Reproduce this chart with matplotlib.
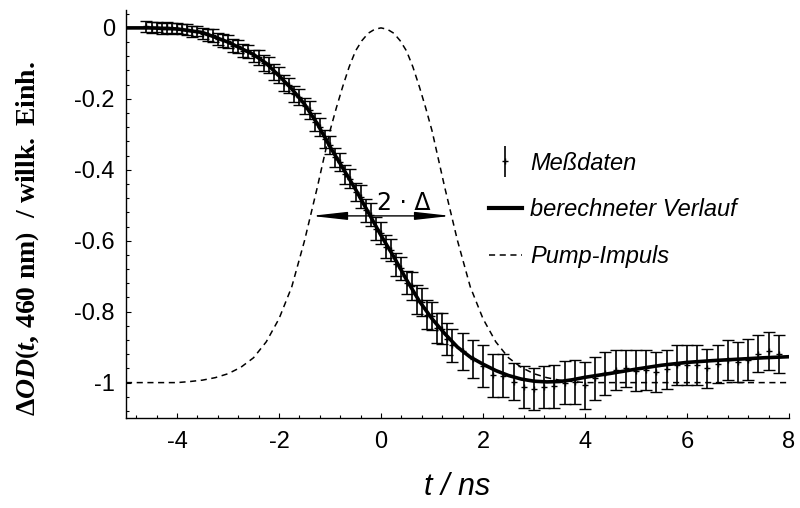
import matplotlib
matplotlib.use("Agg")
import matplotlib.pyplot as plt
from matplotlib.ticker import MultipleLocator, FuncFormatter
from matplotlib.lines import Line2D
from matplotlib.container import ErrorbarContainer
from matplotlib.legend_handler import HandlerErrorbar

plt.rcParams['font.family'] = ['Liberation Sans', 'DejaVu Sans']
plt.rcParams['mathtext.fontset'] = 'custom'
plt.rcParams['mathtext.rm'] = 'Liberation Serif:bold'
plt.rcParams['mathtext.it'] = 'Liberation Serif:bold:italic'
plt.rcParams['mathtext.bf'] = 'Liberation Serif:bold'

# measured points (t in ns, delta OD, error)
t_data = [-4.6, -4.5, -4.4, -4.3, -4.2, -4.1, -4.0, -3.9, -3.8, -3.7,
          -3.6, -3.5, -3.4, -3.3, -3.2, -3.1, -3.0, -2.9, -2.8, -2.7,
          -2.6, -2.5, -2.4, -2.3, -2.2, -2.1, -2.0, -1.9, -1.8, -1.7,
          -1.6, -1.5, -1.4, -1.3, -1.2, -1.1, -1.0, -0.9, -0.8, -0.7,
          -0.6, -0.5, -0.4, -0.3, -0.2, -0.1, 0.0, 0.1, 0.2, 0.3,
          0.4, 0.5, 0.6, 0.7, 0.8, 0.9, 1.0, 1.1, 1.2, 1.3,
          1.4, 1.6, 1.8, 2.0, 2.2, 2.4, 2.6, 2.8, 3.0, 3.2,
          3.4, 3.6, 3.8, 4.0, 4.2, 4.4, 4.6, 4.8, 5.0, 5.2,
          5.4, 5.6, 5.8, 6.0, 6.2, 6.4, 6.6, 6.8, 7.0, 7.2,
          7.4, 7.6, 7.8]
od_data = [0.004, 0.001, 0.003, -0.002, 0.002, -0.001, 0.0, -0.003, -0.004, -0.010,
           -0.009, -0.016, -0.020, -0.021, -0.031, -0.035, -0.038, -0.050, -0.052, -0.064,
           -0.066, -0.079, -0.083, -0.099, -0.104, -0.124, -0.133, -0.155, -0.162, -0.186,
           -0.194, -0.220, -0.232, -0.265, -0.279, -0.314, -0.330, -0.365, -0.378, -0.413,
           -0.425, -0.462, -0.476, -0.514, -0.527, -0.566, -0.578, -0.617, -0.626, -0.667,
           -0.678, -0.718, -0.728, -0.766, -0.772, -0.808, -0.812, -0.845, -0.848, -0.877,
           -0.895, -0.912, -0.934, -0.953, -0.979, -0.980, -0.998, -1.013, -1.018, -1.013,
           -1.010, -1.000, -0.998, -1.007, -0.988, -0.974, -0.965, -0.960, -0.966, -0.965,
           -0.970, -0.963, -0.951, -0.951, -0.951, -0.960, -0.948, -0.937, -0.942, -0.935,
           -0.918, -0.910, -0.920]
od_err = [0.015, 0.015, 0.015, 0.015, 0.015, 0.015, 0.015, 0.015, 0.015, 0.015,
          0.015, 0.015, 0.018, 0.018, 0.018, 0.018, 0.018, 0.018, 0.018, 0.018,
          0.018, 0.018, 0.022, 0.022, 0.022, 0.022, 0.022, 0.022, 0.022, 0.022,
          0.022, 0.022, 0.026, 0.026, 0.026, 0.026, 0.026, 0.026, 0.026, 0.026,
          0.026, 0.026, 0.032, 0.032, 0.032, 0.032, 0.032, 0.032, 0.032, 0.032,
          0.032, 0.032, 0.040, 0.040, 0.040, 0.040, 0.040, 0.042, 0.044, 0.045,
          0.047, 0.052, 0.054, 0.059, 0.061, 0.061, 0.052, 0.059, 0.059, 0.059,
          0.061, 0.061, 0.061, 0.066, 0.061, 0.061, 0.056, 0.052, 0.059, 0.056,
          0.056, 0.054, 0.056, 0.056, 0.056, 0.056, 0.054, 0.056, 0.056, 0.059,
          0.052, 0.054, 0.054]

# calculated curve
t_fit = [-5.0, -4.5, -4.0, -3.5, -3.0, -2.5, -2.25, -2.0, -1.75, -1.5,
         -1.25, -1.0, -0.75, -0.5, -0.25, 0.0, 0.25, 0.5, 0.75, 1.0,
         1.25, 1.5, 1.75, 2.0, 2.25, 2.5, 2.75, 3.0, 3.25, 3.5,
         3.75, 4.0, 4.5, 5.0, 5.5, 6.0, 6.5, 7.0, 7.5, 8.0]
od_fit = [0.0, 0.0, -0.003, -0.013, -0.040, -0.075, -0.100, -0.135, -0.172, -0.215,
          -0.270, -0.335, -0.395, -0.455, -0.520, -0.585, -0.645, -0.710, -0.770, -0.820,
          -0.862, -0.900, -0.928, -0.948, -0.966, -0.980, -0.990, -0.996, -0.998, -0.997,
          -0.992, -0.985, -0.974, -0.962, -0.951, -0.943, -0.938, -0.934, -0.930, -0.927]

# pump pulse
t_pump = [-5.0, -4.0, -3.75, -3.5, -3.25, -3.0, -2.75, -2.5, -2.25, -2.0,
          -1.75, -1.5, -1.25, -1.0, -0.875, -0.75, -0.625, -0.5, -0.375, -0.25,
          -0.125, 0.0, 0.125, 0.25, 0.375, 0.5, 0.625, 0.75, 0.875, 1.0,
          1.25, 1.5, 1.75, 2.0, 2.25, 2.5, 2.75, 3.0, 3.25, 3.5,
          3.75, 4.0, 8.0]
od_pump = [-1.0, -1.0, -0.997, -0.993, -0.986, -0.975, -0.957, -0.930, -0.885, -0.820,
           -0.730, -0.600, -0.450, -0.290, -0.225, -0.165, -0.110, -0.065, -0.036, -0.015,
           -0.004, 0.0, -0.004, -0.015, -0.036, -0.065, -0.110, -0.165, -0.225, -0.290,
           -0.450, -0.600, -0.730, -0.820, -0.885, -0.930, -0.957, -0.975, -0.986, -0.993,
           -0.997, -1.0, -1.0]

fig = plt.figure(figsize=(8, 5.08), dpi=100)
ax = fig.add_axes([0.1575, 0.177, 0.8288, 0.803])

ax.plot(t_pump, od_pump, color='black', lw=1.1, ls=(0, (4, 3)), zorder=1)
ax.errorbar(t_data, od_data, yerr=od_err, fmt='+', ms=4, mew=1, color='black',
            ecolor='black', elinewidth=1.2, capsize=4.5, capthick=1.2, zorder=2)
ax.plot(t_fit, od_fit, color='black', lw=2.6, zorder=3)

ax.annotate('', xy=(-1.37, -0.53), xytext=(1.37, -0.53),
            arrowprops=dict(arrowstyle='<|-|>,head_length=1.8,head_width=0.2',
                            color='black', lw=1, mutation_scale=12,
                            shrinkA=0, shrinkB=0))
ax.text(0.45, -0.495, '2 · Δ', ha='center', va='center', fontsize=17,
        family=['DejaVu Sans'])


def tick_fmt(v, pos):
    v = round(v, 6)
    if v == 0:
        return '0'
    return '%g' % v


ax.set_xlim(-5, 8)
ax.set_ylim(-1.1, 0.05)
ax.xaxis.set_major_locator(MultipleLocator(2))
ax.xaxis.set_minor_locator(MultipleLocator(0.4))
ax.yaxis.set_major_locator(MultipleLocator(0.2))
ax.yaxis.set_minor_locator(MultipleLocator(0.04))
ax.yaxis.set_major_formatter(FuncFormatter(tick_fmt))
ax.xaxis.set_major_formatter(FuncFormatter(tick_fmt))
ax.tick_params(which='both', direction='in', width=0.8, labelsize=17)
ax.tick_params(which='major', length=3.5)
ax.tick_params(which='minor', length=2)
ax.tick_params(axis='x', pad=9)
ax.tick_params(axis='y', pad=8)
for s in ['top', 'right']:
    ax.spines[s].set_visible(False)
for s in ['left', 'bottom']:
    ax.spines[s].set_linewidth(1)

ax.set_xlabel('t / ns', fontsize=22, style='italic', labelpad=14)
fig.text(0.034, 0.53, r'$\Delta\mathit{OD}\left(\mathit{t},\,460\ \mathrm{nm}\right)\ \ /\ \mathrm{willk.\ Einh.}$',
         rotation=90, ha='center', va='center', fontsize=20)

h_data = ax.errorbar([], [], yerr=[], fmt='+', ms=4, mew=1, color='black',
                     elinewidth=1.2, capsize=4.5, capthick=1.2)
h_fit = Line2D([], [], color='black', lw=3)
h_pump = Line2D([], [], color='black', lw=1.1, ls=(0, (4, 3)))
leg = ax.legend([h_data, h_fit, h_pump], ['Meßdaten', 'berechneter Verlauf', 'Pump-Impuls'],
                loc='upper left', bbox_to_anchor=(0.515, 0.705), frameon=False,
                prop={'size': 17, 'style': 'italic'}, handlelength=1.4,
                handletextpad=0.35, labelspacing=1.0,
                handler_map={ErrorbarContainer: HandlerErrorbar(yerr_size=0.65)})

fig.savefig('out.png', dpi=100)
